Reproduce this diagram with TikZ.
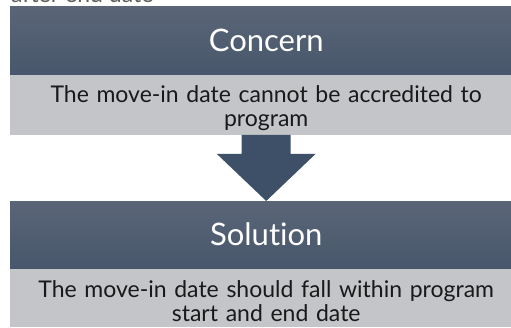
\documentclass[tikz,border=0pt]{standalone}
\usepackage{fontspec}
\setmainfont{Lato}[Ligatures=NoCommon]
\usetikzlibrary{positioning,calc}
\definecolor{headtop}{RGB}{90,101,119}
\definecolor{headbot}{RGB}{72,87,108}
\definecolor{bandgray}{RGB}{195,197,201}
\definecolor{arrowblue}{RGB}{62,80,104}
\definecolor{inkgray}{RGB}{25,25,25}
\newcommand{\bandstrut}{\rule{0pt}{24pt}}

\begin{document}
\begin{tikzpicture}[x=1pt, y=1pt,
		header/.style={top color=headtop, bottom color=headbot, text=white,
			minimum width=512pt, minimum height=68pt, inner sep=0pt,
			font=\fontsize{31}{34}\selectfont},
		band/.style={fill=bandgray, text=inkgray, align=center, text width=490pt,
			minimum width=512pt, inner sep=0pt,
			font=\fontsize{23}{23.5}\selectfont}]
			\useasboundingbox (0,0) rectangle (511,328);
			\clip (0,0) rectangle (511,328);
			\fill [white] (0,0) rectangle (511,328);
			% cut-off line above the picture
			\node [anchor=base west, text=inkgray!70, inner sep=0pt,
				font=\fontsize{23}{23.5}\selectfont] (cutText) at (11,325) {after end date};
			\node [header, anchor=north west] (concern) at (10,322) {Concern};
			\node [band, minimum height=60pt, below=0pt of concern] (concernText)
				{\bandstrut The move-in date cannot be accredited to\\program};
			\node [header, minimum height=67pt, anchor=north west] (solution) at (10,127) {Solution};
			\node [band, minimum height=58pt, below=0pt of solution] (solutionText)
				{\bandstrut The move-in date should fall within program\\start and end date};
			% arrow between the two blocks
			\fill [arrowblue] ($(concernText.south)+(-24.5,0)$) -- ($(concernText.south)+(24.5,0)$)
				-- ($(concernText.south)+(24.5,-19)$) -- ($(concernText.south)+(49.5,-19)$)
				-- (solution.north) -- ($(concernText.south)+(-49.5,-19)$)
				-- ($(concernText.south)+(-24.5,-19)$) -- cycle;
		\end{tikzpicture}
\end{document}
